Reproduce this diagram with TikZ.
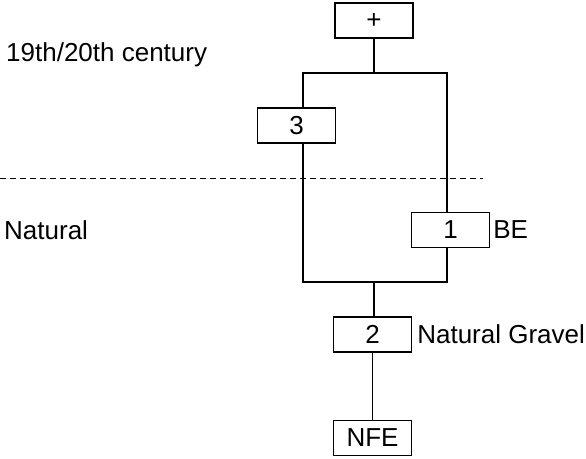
\documentclass[tikz,border=0pt]{standalone}
\usepackage{fontspec}
\setmainfont{Liberation Sans}
\usetikzlibrary{positioning, calc}
\tikzset{
  x=1pt, y=-1pt,
  font=\fontsize{26}{30}\selectfont,
  unit/.style={
    draw, line width=1.2pt, fill=white, inner sep=0pt,
    minimum width=78pt, minimum height=35pt
  },
  link/.style={line width=1.2pt},
  lab/.style={anchor=west, inner sep=0pt},
  boundary/.style={line width=0.8pt, dash pattern=on 6pt off 4pt}
}
\begin{document}
\begin{tikzpicture}
  \useasboundingbox (0,0) rectangle (586,458);
  \node[lab] (era) at (6,55) {19th/20th century};
  \node[lab] (nat) at (4,230) {Natural};
  \coordinate (dl) at (0,178);
  \coordinate (dr) at (483,178);
  \draw[boundary] (dl) -- (dr);

  \node[unit] (plus) at (374,20.5) {+};
  \node[unit] (u3) at (296.5,125.5) {3};
  \node[unit] (u1) at (450.5,230) {1};
  \node[unit] (u2) at (372.5,334.5) {2};
  \node[unit] (nfe) at (372.5,438) {NFE};
  \node[lab,right=3pt of u1] (be) {BE};
  \node[lab,right=5pt of u2] (grav) {Natural Gravel};

  \coordinate (tl) at (303,73);
  \coordinate (tr) at (447,73);
  \coordinate (bl) at (303,282);
  \coordinate (br) at (447,282);
  \draw[link] (plus.south) -- (plus.south |- tl);
  \draw[link] (tl |- u3.north) -- (tl) -- (tr) -- (tr |- u1.north);
  \draw[link] (tl |- u3.south) -- (bl) -- (br) -- (br |- u1.south);
  \draw[link] (u2.north -| plus) -- (plus |- bl);
  \draw[link] (u2.south) -- (nfe.north);
\end{tikzpicture}
\end{document}
